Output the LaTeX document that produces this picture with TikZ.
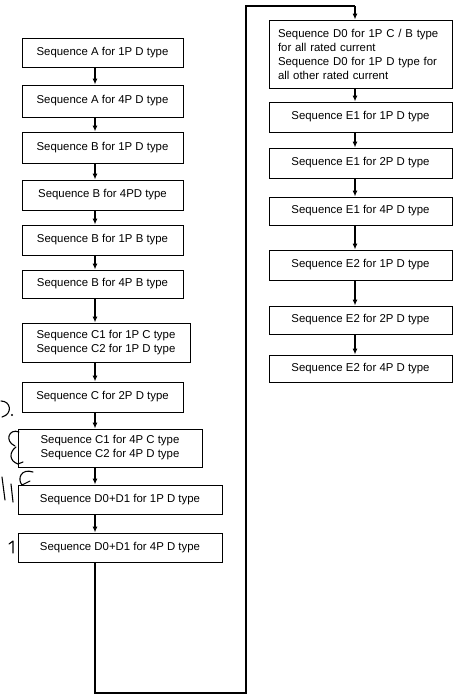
\documentclass[tikz,border=0pt]{standalone}
\usepackage{fontspec}
\setmainfont{Liberation Sans}
\usetikzlibrary{arrows.meta}
\begin{document}
\begin{tikzpicture}[x=1pt,y=-1pt,
  stepbox/.style={draw=black, line width=1pt, rectangle, inner sep=0pt, align=center,
    font=\fontsize{11.4}{14}\selectfont},
  flow/.style={draw=black, line width=1.1pt, -{Latex[length=6pt,width=5pt]}},
  wire/.style={draw=black, line width=1.1pt, line join=miter},
  scrib/.style={draw=black, line width=1.1pt, line cap=round, line join=round}]
\useasboundingbox (0,0) rectangle (462,697);
\fill[white] (0,0) rectangle (462,697);

% left column
\node[stepbox, minimum width=161pt, minimum height=29pt] (L1) at (102.5,52.5) {Sequence A for 1P D type};
\node[stepbox, minimum width=161pt, minimum height=32pt] (L2) at (102.5,101) {Sequence A for 4P D type};
\node[stepbox, minimum width=161pt, minimum height=31pt] (L3) at (102.5,147.5) {Sequence B for 1P D type};
\node[stepbox, minimum width=161pt, minimum height=30pt] (L4) at (102.5,195) {Sequence B for 4PD type};
\node[stepbox, minimum width=161pt, minimum height=30pt] (L5) at (102.5,240) {Sequence B for 1P B type};
\node[stepbox, minimum width=161pt, minimum height=28pt] (L6) at (102.5,284) {Sequence B for 4P B type};
\node[stepbox, minimum width=168pt, minimum height=39pt] (L7) at (106,342.5) {Sequence C1 for 1P C type\\Sequence C2 for 1P D type};
\node[stepbox, minimum width=161pt, minimum height=30pt] (L8) at (102.5,397) {Sequence C for 2P D type};
\node[stepbox, minimum width=184pt, minimum height=38pt] (L9) at (110,448) {Sequence C1 for 4P C type\\Sequence C2 for 4P D type};
\node[stepbox, minimum width=204pt, minimum height=29pt] (L10) at (120,499.5) {Sequence D0+D1 for 1P D type};
\node[stepbox, minimum width=204pt, minimum height=29pt] (L11) at (120,547.5) {Sequence D0+D1 for 4P D type};

% right column
\node[stepbox, align=left, text width=165pt, inner xsep=9pt, minimum height=68pt] (R1) at (360.5,54)
  {Sequence D0 for 1P C / B type\\for all rated current\\Sequence D0 for 1P D type for\\all other rated current};
\node[stepbox, minimum width=183pt, minimum height=30pt] (R2) at (360.5,117) {Sequence E1 for 1P D type};
\node[stepbox, minimum width=183pt, minimum height=30pt] (R3) at (360.5,163) {Sequence E1 for 2P D type};
\node[stepbox, minimum width=183pt, minimum height=28pt] (R4) at (360.5,211) {Sequence E1 for 4P D type};
\node[stepbox, minimum width=183pt, minimum height=30pt] (R5) at (360.5,265) {Sequence E2 for 1P D type};
\node[stepbox, minimum width=183pt, minimum height=28pt] (R6) at (360.5,320) {Sequence E2 for 2P D type};
\node[stepbox, minimum width=183pt, minimum height=27pt] (R7) at (360.5,368.5) {Sequence E2 for 4P D type};

% flow lines run along fixed verticals
\coordinate (xl) at (95,0);
\coordinate (xr) at (355,0);
\foreach \a/\b in {L1/L2,L2/L3,L3/L4,L4/L5,L5/L6,L6/L7,L7/L8,L8/L9,L9/L10,L10/L11}
  \draw[flow] (\a.south -| xl) -- (\b.north -| xl);
\foreach \a/\b in {R1/R2,R2/R3,R3/R4,R4/R5,R5/R6,R6/R7}
  \draw[flow] (\a.south -| xr) -- (\b.north -| xr);

% return path from the last left step to the top of the right column
\coordinate (b1) at (95,693);
\coordinate (b2) at (246,693);
\coordinate (b3) at (246,6);
\draw[wire] (L11.south -| xl) -- (b1) -- (b2) -- (b3) -- (b3 -| xr);
\draw[flow] (b3 -| xr) -- (R1.north -| xr);

% handwritten marks in the margin
\draw[scrib] (1,401) .. controls (11,401) and (13,414) .. (2,417);
\fill (12,415) circle (1.2pt);
\draw[scrib] (19,432) .. controls (9,428) and (4,441) .. (15,446);
\draw[scrib] (16,447) .. controls (9,452) and (9,461) .. (18,464) -- (23,462);
\draw[scrib] (33,472) .. controls (21,468) and (17,479) .. (22,485) -- (30,481);
\draw[scrib] (2,477) -- (5,500);
\draw[scrib] (11,484) -- (13,502);
\draw[scrib] (9,544) -- (13,541) -- (13,553);
\end{tikzpicture}
\end{document}
